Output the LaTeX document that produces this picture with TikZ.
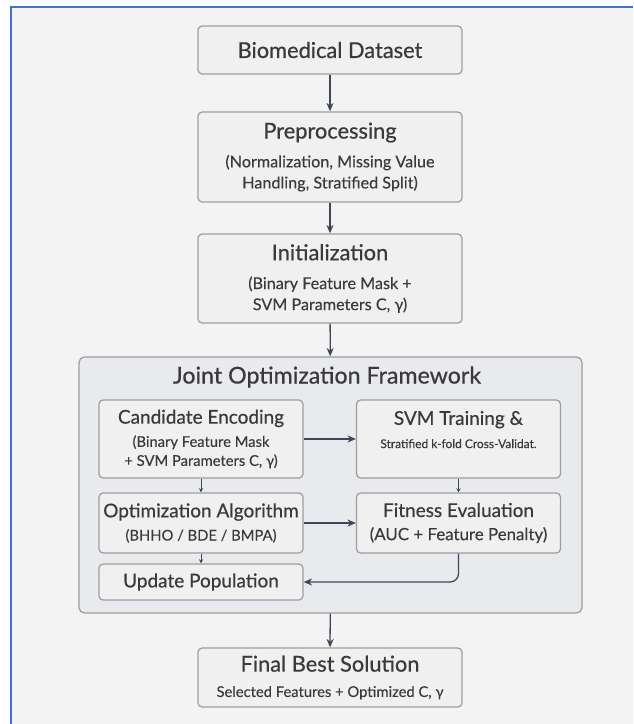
\documentclass[tikz,border=0pt]{standalone}
\usepackage{fontspec}
\setmainfont{Lato}[FakeBold=0.25]
\newfontfamily\headfam{Lato}[FakeBold=0.6]
\usetikzlibrary{arrows.meta}

\definecolor{pageblue}{HTML}{4472C4}
\definecolor{bggray}{HTML}{F3F3F3}
\definecolor{boxfill}{HTML}{F0F0F0}
\definecolor{boxline}{HTML}{9E9E9E}
\definecolor{framefill}{HTML}{E8EAEE}
\definecolor{textgray}{HTML}{3A3A3A}
\definecolor{arrowgray}{HTML}{3E4756}

\newcommand{\titlefont}{\headfam\fontsize{15.5}{19}\selectfont}
\newcommand{\subfont}{\fontsize{11.5}{15}\selectfont}
\newcommand{\innertitle}{\headfam\fontsize{13.5}{16}\selectfont}
\newcommand{\innersub}{\fontsize{10.5}{13.5}\selectfont}

\tikzset{
  mainbox/.style={draw=boxline, fill=boxfill, rounded corners=3pt, line width=0.9pt,
    minimum width=6.6cm, align=center, text=textgray, inner sep=0pt, font=\subfont},
  innerbox/.style={mainbox, minimum width=5.1cm, font=\innersub},
  flow/.style={-{Stealth[length=6pt,width=5pt]}, draw=arrowgray, line width=0.9pt},
  smallflow/.style={-{Stealth[length=3pt,width=3pt]}, draw=arrowgray, line width=0.7pt},
}

\begin{document}
\begin{tikzpicture}[x=0.025cm, y=-0.025cm]

  %fond et cadre
  \useasboundingbox (0,0) rectangle (633,724);
  \fill[white] (0,0) rectangle (633,724);
  \fill[bggray] (11,7) rectangle (633,724);
  \draw[pageblue, line width=1.4pt] (11,724) -- (11,7) -- (633,7);

  %etapes principales
  \node[mainbox, minimum height=1.2cm, font=\titlefont] (data) at (330,50) {Biomedical Dataset};
  \node[mainbox, minimum height=2.25cm] (prep) at (330,157)
    {{\titlefont Preprocessing}\\[5.5pt] (Normalization, Missing Value\\ Handling, Stratified Split)};
  \node[mainbox, minimum height=2.225cm] (init) at (330,278.5)
    {{\titlefont Initialization}\\[5.5pt] (Binary Feature Mask +\\ SVM Parameters C, γ)};

  %cadre d'optimisation
  \node[draw=boxline, fill=framefill, rounded corners=4pt, line width=0.9pt,
    minimum width=12.575cm, minimum height=6.4cm, inner sep=0pt] (frame) at (330.5,485) {};
  \node[text=textgray, font=\headfam\fontsize{16.5}{20}\selectfont] (frametitle) at (327,377) {Joint Optimization Framework};

  \node[innerbox, minimum height=1.95cm] (ce) at (201,439)
    {{\innertitle Candidate Encoding}\\[3pt] (Binary Feature Mask\\ + SVM Parameters C, γ)};
  \node[innerbox, minimum height=1.95cm] (svm) at (458.5,439)
    {{\innertitle SVM Training \&}\\[3pt] {\fontsize{8.5}{11}\selectfont Stratified k-fold Cross-Validat.}\\ \mbox{}};
  \node[innerbox, minimum height=1.5cm] (oa) at (201,523)
    {{\innertitle Optimization Algorithm}\\[3pt] (BHHO / BDE / BMPA)};
  \node[innerbox, minimum height=1.5cm] (fe) at (458.5,523)
    {{\innertitle Fitness Evaluation}\\[3pt] {\fontsize{12}{14}\selectfont (AUC + Feature Penalty)}};
  \node[innerbox, minimum height=0.9cm, font=\innertitle] (up) at (201,582) {Update Population};

  %sortie
  \node[mainbox, minimum height=1.475cm] (final) at (330,677.5)
    {{\titlefont Final Best Solution}\\[3pt] {\fontsize{10.5}{13}\selectfont Selected Features + Optimized C, γ}};

  %fleches
  \draw[flow] (data) -- (prep);
  \draw[flow] (prep) -- (init);
  \draw[flow] (init) -- (frame);
  \draw[flow] (frame) -- (final);
  \draw[flow] (ce) -- (svm);
  \draw[flow] (oa) -- (fe);
  \draw[smallflow] (ce) -- (oa);
  \draw[smallflow] (svm) -- (fe);
  \draw[smallflow] (oa) -- (up);
  \draw[flow, rounded corners=6pt] (fe.south) |- (up.east);

\end{tikzpicture}
\end{document}
